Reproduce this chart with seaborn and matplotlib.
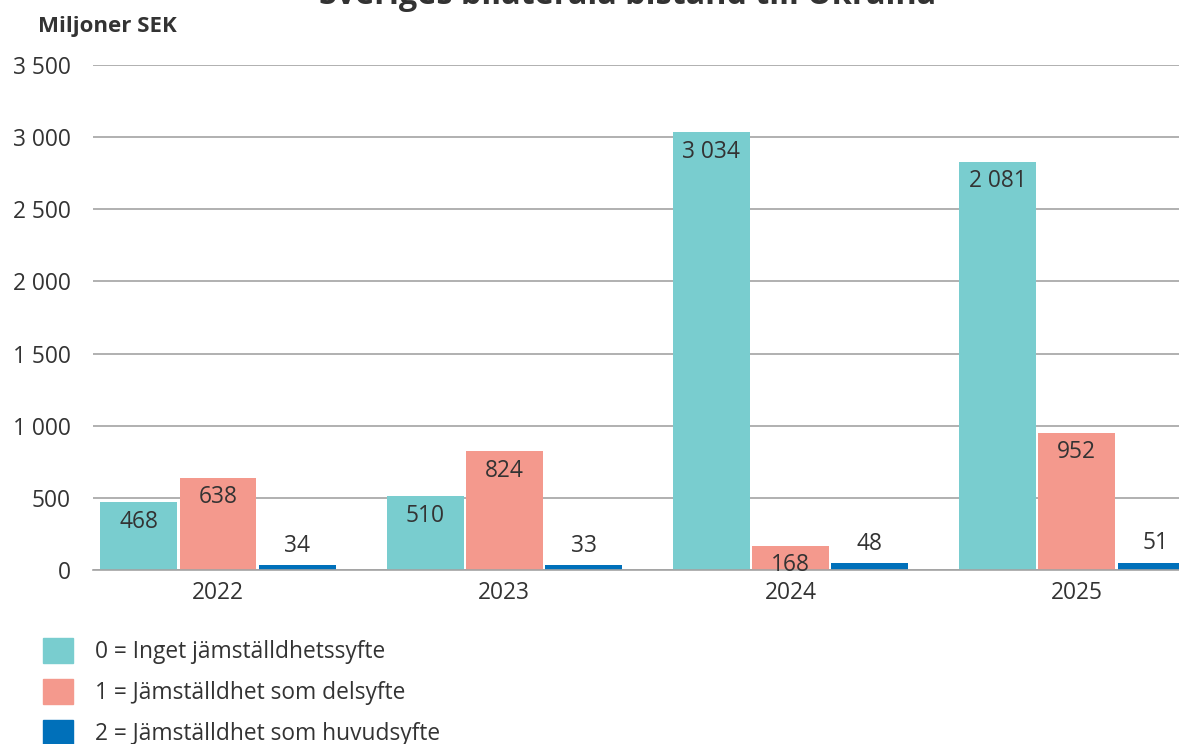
import matplotlib
matplotlib.use("Agg")
import matplotlib.pyplot as plt
import matplotlib.patches as mpatches
import pandas as pd
import seaborn as sns

# ── data ─────────────────────────────────────────────
years = ["2022", "2023", "2024", "2025"]
categories = [
    "0 = Inget jämställdhetssyfte",
    "1 = Jämställdhet som delsyfte",
    "2 = Jämställdhet som huvudsyfte",
]
# bar heights as drawn in the reference (2025 teal bar is drawn taller than its label)
inget = [468, 510, 3034, 2830]
delsyfte = [638, 824, 168, 952]
huvudsyfte = [34, 33, 48, 51]
# printed value labels
inget_labels = ["468", "510", "3 034", "2 081"]
delsyfte_labels = ["638", "824", "168", "952"]
huvudsyfte_labels = ["34", "33", "48", "51"]

yticks = [0, 500, 1000, 1500, 2000, 2500, 3000, 3500]
ytick_labels = ["0", "500", "1 000", "1 500", "2 000", "2 500", "3 000", "3 500"]

colors = ["#79CDCF", "#F4998D", "#0070BA"]

df = pd.DataFrame({
    "year": years * 3,
    "category": [categories[0]] * 4 + [categories[1]] * 4 + [categories[2]] * 4,
    "value": inget + delsyfte + huvudsyfte,
})
labels = [inget_labels, delsyfte_labels, huvudsyfte_labels]

# ── plot ─────────────────────────────────────────────
sns.set_theme(style="white")
plt.rcParams["font.family"] = ["Open Sans", "DejaVu Sans"]
text_color = "#333333"
fs = 16.4

fig = plt.figure(figsize=(11.79, 7.44), dpi=100)
ax = fig.add_axes([93 / 1179, 1 - 570 / 744, 1 - 93 / 1179, (570 - 65) / 744])

sns.barplot(data=df, x="year", y="value", hue="category", hue_order=categories,
            palette=colors, width=0.83, gap=0.03, linewidth=0, saturation=1,
            legend=False, ax=ax)

ax.set_ylim(0, 3500)
ax.set_xlim(-0.437, 3.357)
ax.set_yticks(yticks)
ax.set_yticklabels(ytick_labels)
ax.yaxis.grid(True, color="#A3A3A3", linewidth=1.2)
ax.set_axisbelow(True)
ax.tick_params(axis="y", length=0, pad=16, labelsize=fs, labelcolor=text_color)
ax.tick_params(axis="x", length=0, pad=8, labelsize=fs, labelcolor=text_color)
ax.set_xlabel("")
ax.set_ylabel("")
for s in ["top", "right", "left"]:
    ax.spines[s].set_visible(False)
ax.spines["bottom"].set_color("#A3A3A3")
ax.spines["bottom"].set_linewidth(1.2)

# value labels: inside top for the two first series, above for the third
for i, cont in enumerate(ax.containers):
    offset = 14 if i == 2 else -14
    for bar, txt in zip(cont.patches, labels[i]):
        ax.annotate(txt, (bar.get_x() + bar.get_width() / 2, bar.get_height()),
                    xytext=(0, offset), textcoords="offset points",
                    ha="center", va="center", fontsize=fs, color=text_color)

# title (cut at top in the reference) and unit label
fig.text(0.532, 1 - 4 / 744, "Sveriges bilaterala bistånd till Ukraina",
         ha="center", va="baseline", fontsize=23.3, fontweight="bold", color=text_color)
fig.text(38 / 1179, 1 - 32 / 744, "Miljoner SEK", ha="left", va="baseline",
         fontsize=16, fontweight="bold", color=text_color)

handles = [mpatches.Patch(color=c, label=l) for c, l in zip(colors, categories)]
fig.legend(handles=handles, loc="upper left", bbox_to_anchor=(43 / 1179, 1 - 638 / 744),
           frameon=False, fontsize=fs, handlelength=1.3, handleheight=1.3,
           labelspacing=0.66, handletextpad=1.0, borderaxespad=0, borderpad=0,
           labelcolor=text_color)

fig.savefig("out.png", dpi=100)
